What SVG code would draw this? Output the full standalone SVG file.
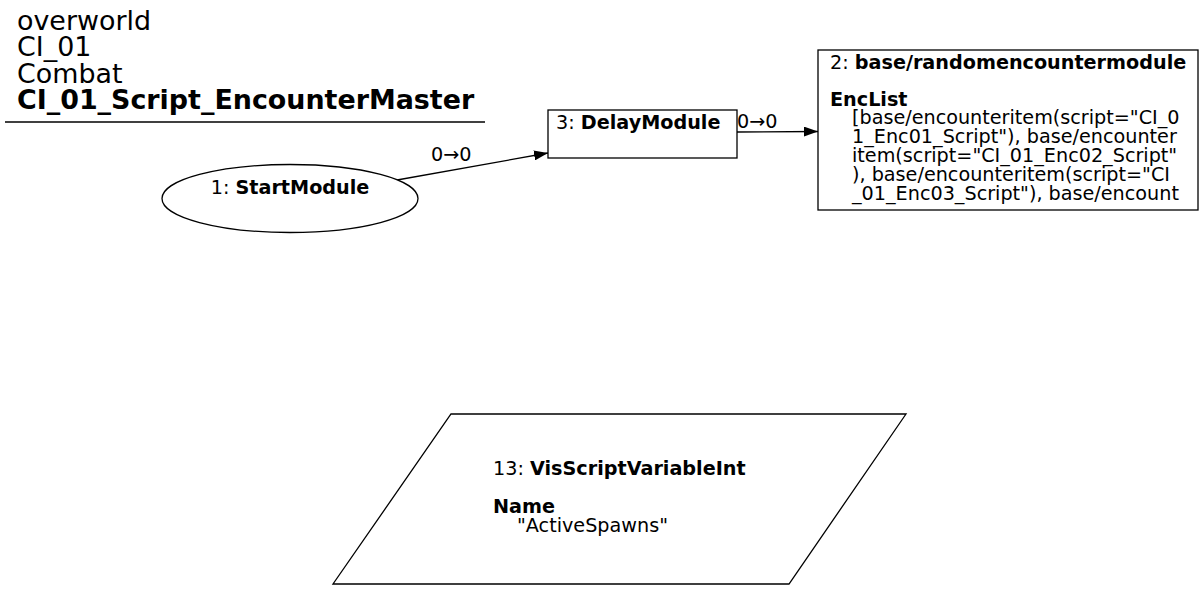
<svg xmlns="http://www.w3.org/2000/svg" width="1204" height="591" viewBox="0 0 1204 591">
<style>
text{font-family:"DejaVu Sans",sans-serif;fill:#000}
.t{font-size:26.9px}
.n{font-size:19.2px}
.b{font-weight:bold}
.s{fill:#fff;stroke:#000;stroke-width:1.3}
.e{fill:none;stroke:#000;stroke-width:1.3}
</style>
<defs>
<marker id="ah" markerWidth="14" markerHeight="10" refX="14" refY="5" orient="auto" markerUnits="userSpaceOnUse">
<path d="M0,0 L14,5 L0,10 Z" fill="#000"/>
</marker>
</defs>
<rect width="1204" height="591" fill="#fff"/>
<g id="title">
<text class="t" x="17" y="29.5">overworld</text>
<text class="t" x="17" y="56">CI_01</text>
<text class="t" x="17" y="82.5">Combat</text>
<text class="t b" x="17" y="109">CI_01_Script_EncounterMaster</text>
<line x1="5" y1="122" x2="485" y2="122" stroke="#000" stroke-width="1.3"/>
</g>
<g id="connectors">
<path class="e" d="M397,180 L548,153" marker-end="url(#ah)"/>
<text class="n" x="431" y="161">0→0</text>
<path class="e" d="M737,132 L818,131.5" marker-end="url(#ah)"/>
<text class="n" x="737" y="128">0→0</text>
</g>
<g id="node1">
<ellipse class="s" cx="290" cy="198.5" rx="128" ry="34"/>
<text class="n" x="290" y="193.5" text-anchor="middle">1: <tspan class="b">StartModule</tspan></text>
</g>
<g id="node3">
<rect class="s" x="548" y="110" width="189" height="48"/>
<text class="n" x="556" y="128.5">3: <tspan class="b">DelayModule</tspan></text>
</g>
<g id="node2">
<rect class="s" x="818" y="50" width="380" height="160"/>
<text class="n" x="830" y="68.5">2: <tspan class="b">base/randomencountermodule</tspan></text>
<text class="n b" x="830" y="105.5">EncList</text>
<text class="n" x="852" y="124">[base/encounteritem(script="CI_0</text>
<text class="n" x="852" y="143">1_Enc01_Script"), base/encounter</text>
<text class="n" x="852" y="162">item(script="CI_01_Enc02_Script"</text>
<text class="n" x="852" y="181">), base/encounteritem(script="CI</text>
<text class="n" x="852" y="200">_01_Enc03_Script"), base/encount</text>
</g>
<g id="node13">
<polygon class="s" points="451,414 906,414 789,584 333,584"/>
<text class="n" x="493" y="475">13: <tspan class="b">VisScriptVariableInt</tspan></text>
<text class="n b" x="493" y="513">Name</text>
<text class="n" x="517" y="532">"ActiveSpawns"</text>
</g>
</svg>
